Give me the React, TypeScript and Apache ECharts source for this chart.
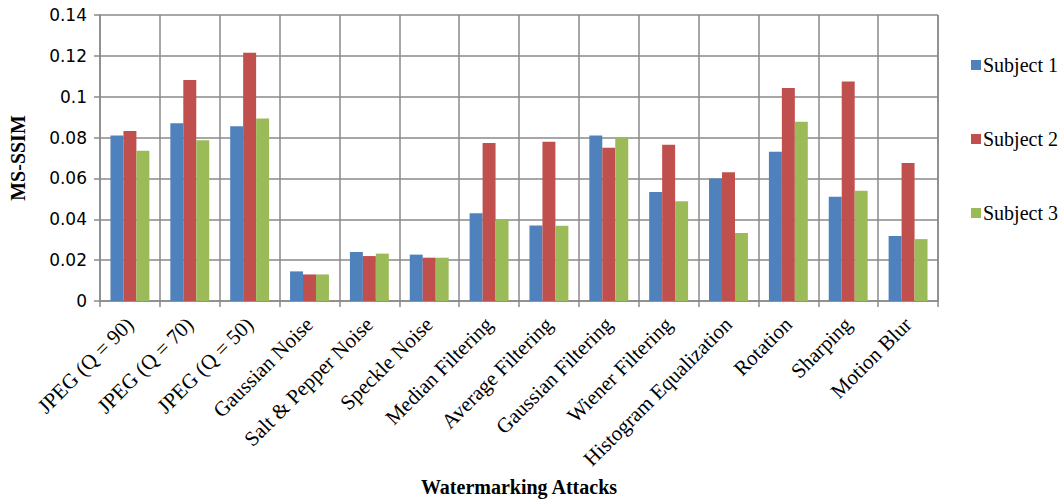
import React, { useEffect, useRef } from "react";
import * as echarts from "echarts";

const categories = [
  "JPEG (Q = 90)",
  "JPEG (Q = 70)",
  "JPEG (Q = 50)",
  "Gaussian Noise",
  "Salt & Pepper Noise",
  "Speckle Noise",
  "Median Filtering",
  "Average Filtering",
  "Gaussian Filtering",
  "Wiener Filtering",
  "Histogram Equalization",
  "Rotation",
  "Sharping",
  "Motion Blur",
];

const subject1 = [0.081, 0.087, 0.0855, 0.0145, 0.024, 0.0227, 0.043, 0.037, 0.081, 0.0533, 0.06, 0.073, 0.051, 0.0318];
const subject2 = [0.0832, 0.1082, 0.1215, 0.013, 0.022, 0.0212, 0.0773, 0.078, 0.075, 0.0765, 0.063, 0.1043, 0.1074, 0.0676];
const subject3 = [0.0735, 0.0787, 0.0893, 0.013, 0.0232, 0.0212, 0.0396, 0.0368, 0.0803, 0.0488, 0.0333, 0.0878, 0.054, 0.0303];

const seriesNames = ["Subject 1", "Subject 2", "Subject 3"];
const colors = ["#4F81BD", "#C0504D", "#9BBB59"];

const SERIF = "Liberation Serif";
const SANS = "DejaVu Sans";
const GRID_COLOR = "#8a8a8a";

export default function App() {
  const ref = useRef<HTMLDivElement>(null);

  useEffect(() => {
    document.body.style.margin = "0";
    if (!ref.current) return;
    const chart = echarts.init(ref.current, undefined, { renderer: "svg" });
    const data = [subject1, subject2, subject3];
    chart.setOption({
      animation: false,
      backgroundColor: "#ffffff",
      textStyle: { fontFamily: SERIF, color: "#000" },
      grid: { left: 92, right: 126, top: 15, bottom: 200 },
      legend: {
        orient: "vertical",
        left: 966,
        top: 50,
        itemWidth: 10,
        itemHeight: 10,
        itemGap: 54,
        icon: "rect",
        data: seriesNames,
        textStyle: { fontFamily: SERIF, fontSize: 20, color: "#000", lineHeight: 20, padding: [0, 0, 0, -3] },
      },
      xAxis: {
        type: "category",
        data: categories,
        name: "Watermarking Attacks",
        nameLocation: "middle",
        nameGap: 176,
        nameTextStyle: { fontFamily: SERIF, fontSize: 20, fontWeight: "bold", color: "#000" },
        axisLine: { show: true, lineStyle: { color: GRID_COLOR, width: 1.5 } },
        axisTick: { show: true, length: 6, lineStyle: { color: GRID_COLOR, width: 1.5 } },
        splitLine: { show: true, lineStyle: { color: GRID_COLOR, width: 1.5 } },
        axisLabel: {
          rotate: 45,
          interval: 0,
          margin: 20,
          fontFamily: SERIF,
          fontSize: 21,
          color: "#000",
        },
      },
      yAxis: {
        type: "value",
        min: 0,
        max: 0.14,
        interval: 0.02,
        name: "MS-SSIM",
        nameLocation: "middle",
        nameGap: 72,
        nameTextStyle: { fontFamily: SERIF, fontSize: 20, fontWeight: "bold", color: "#000" },
        axisLine: { show: true, lineStyle: { color: GRID_COLOR, width: 1.5 } },
        axisTick: { show: true, length: 6, lineStyle: { color: GRID_COLOR, width: 1.5 } },
        splitLine: { show: true, lineStyle: { color: GRID_COLOR, width: 1.5 } },
        axisLabel: {
          margin: 13,
          fontFamily: SANS,
          fontSize: 17,
          color: "#000",
          formatter: (v: number) => String(Math.round(v * 100) / 100),
        },
      },
      series: data.map((d, i) => ({
        name: seriesNames[i],
        type: "bar",
        data: d,
        barGap: "0%",
        barCategoryGap: "35%",
        itemStyle: { color: colors[i] },
      })),
      graphic: [
        {
          type: "line",
          shape: { x1: 938, y1: 15, x2: 938, y2: 302 },
          style: { stroke: GRID_COLOR, lineWidth: 1.5 },
          z: 0,
        },
      ],
    });
    return () => chart.dispose();
  }, []);

  return <div ref={ref} style={{ width: 1064, height: 502 }} />;
}
